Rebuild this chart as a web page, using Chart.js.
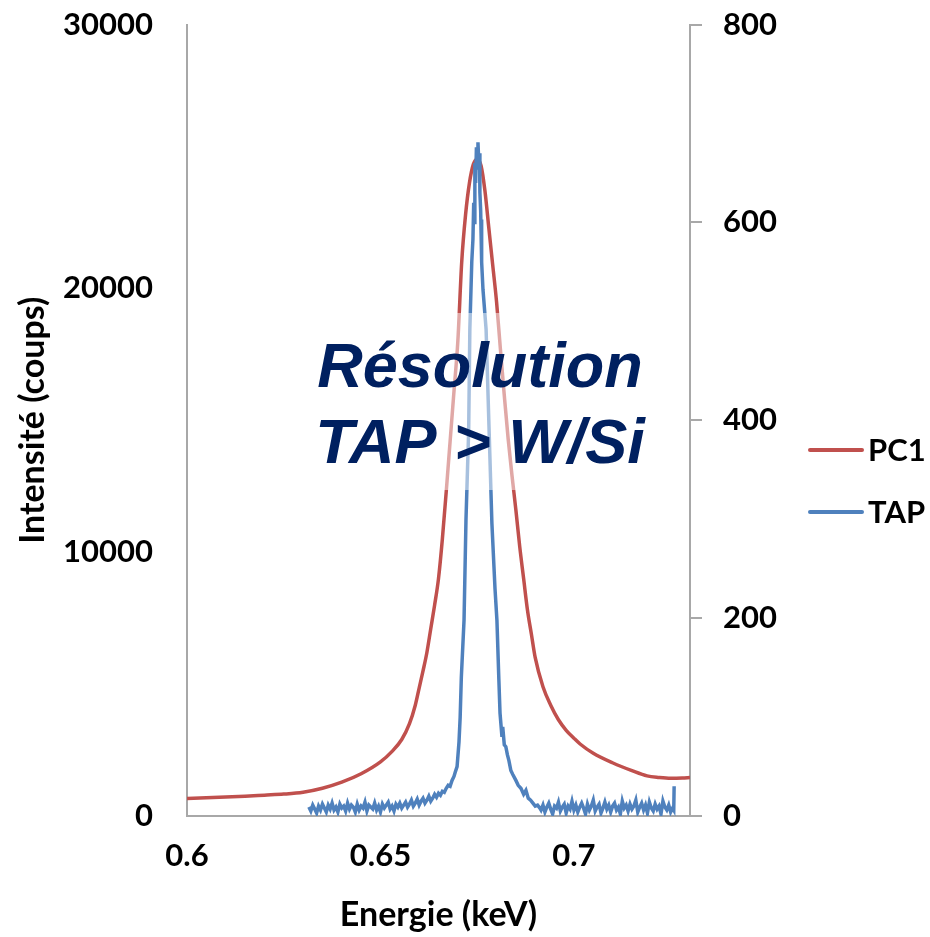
<!DOCTYPE html>
<html>
<head>
<meta charset="utf-8">
<script src="https://cdn.jsdelivr.net/npm/chart.js@4/dist/chart.umd.min.js"></script>
<style>
  body { margin: 0; background: #fff; }
  #wrap { width: 930px; height: 937px; overflow: hidden; }
  #myChart { display: block; margin-top: -20px; }
</style>
</head>
<body>
<div id="wrap"><canvas id="myChart" width="930" height="957"></canvas></div>
<script>
// PC1 spectrum (left axis, counts)
const pc1Energy = [0.600, 0.605, 0.610, 0.615, 0.620, 0.625, 0.630, 0.635, 0.640, 0.645,
  0.650, 0.653, 0.6555, 0.6575, 0.659, 0.660, 0.661, 0.662, 0.663, 0.664,
  0.665, 0.666, 0.667, 0.668, 0.669, 0.670, 0.671, 0.672, 0.673, 0.674,
  0.675, 0.676, 0.677, 0.678, 0.679, 0.680, 0.681, 0.682, 0.683, 0.684,
  0.685, 0.686, 0.687, 0.688, 0.689, 0.690, 0.692, 0.694, 0.696, 0.698,
  0.700, 0.7016, 0.705, 0.7101, 0.715, 0.7189, 0.722, 0.725, 0.728, 0.730]
const pc1Counts = [660, 690, 720, 750, 790, 830, 900, 1050, 1280, 1600,
  2050, 2450, 2900, 3500, 4200, 4850, 5500, 6200, 7100, 8000,
  9000, 10500, 12300, 14200, 16100, 18000, 21000, 22800, 24000, 24700,
  24900, 24650, 23700, 22300, 20900, 19500, 17700, 15950, 14300, 12900,
  11600, 10200, 9000, 7800, 6900, 6000, 4900, 4200, 3650, 3250,
  2950, 2730, 2380, 2010, 1720, 1520, 1460, 1430, 1440, 1460]

// TAP spectrum (right axis, counts)
const tapEnergy = [0.6315, 0.6320, 0.6325, 0.6330, 0.6335, 0.6340, 0.6345, 0.6350, 0.6355, 0.6360,
  0.6365, 0.6370, 0.6375, 0.6380, 0.6385, 0.6390, 0.6395, 0.6400, 0.6405, 0.6410,
  0.6415, 0.6420, 0.6425, 0.6430, 0.6435, 0.6440, 0.6445, 0.6450, 0.6455, 0.6460,
  0.6465, 0.6470, 0.6475, 0.6480, 0.6485, 0.6490, 0.6495, 0.6500, 0.6505, 0.6510,
  0.6515, 0.6520, 0.6525, 0.6530, 0.6535, 0.6540, 0.6545, 0.6550, 0.6555, 0.6560,
  0.6565, 0.6570, 0.6575, 0.6580, 0.6585, 0.6590, 0.6595, 0.6600, 0.6605, 0.6610,
  0.6615, 0.6620, 0.6625, 0.6630, 0.6635, 0.6640, 0.6645, 0.6650,
  0.6655, 0.6660, 0.6665, 0.6670, 0.6675, 0.6680, 0.6685, 0.6690, 0.6693, 0.6698,
  0.6703, 0.6706, 0.6709, 0.6716, 0.6721, 0.6728, 0.6731, 0.6736, 0.6739, 0.6741,
  0.6742, 0.6744, 0.6746, 0.6748, 0.6750, 0.6752, 0.6754, 0.6756, 0.6757, 0.6759,
  0.6760, 0.6761, 0.6762, 0.6765, 0.6773, 0.6780, 0.6788, 0.6796, 0.6801, 0.6806,
  0.6809, 0.6814, 0.6816, 0.6820, 0.6824, 0.6828, 0.6832, 0.6837, 0.6842, 0.6850,
  0.6856, 0.6863, 0.6870, 0.6876, 0.6882, 0.6888, 0.6894, 0.6900, 0.6906, 0.6912,
  0.6915, 0.6920, 0.6925, 0.6930, 0.6935, 0.6940, 0.6945, 0.6950, 0.6955, 0.6960,
  0.6965, 0.6970, 0.6975, 0.6980, 0.6985, 0.6990, 0.6995, 0.7000, 0.7005, 0.7010,
  0.7015, 0.7020, 0.7025, 0.7030, 0.7035, 0.7040, 0.7045, 0.7050, 0.7055, 0.7060,
  0.7065, 0.7070, 0.7075, 0.7080, 0.7085, 0.7090, 0.7095, 0.7100, 0.7105, 0.7110,
  0.7115, 0.7120, 0.7125, 0.7130, 0.7135, 0.7140, 0.7145, 0.7150, 0.7155, 0.7160,
  0.7165, 0.7170, 0.7175, 0.7180, 0.7185, 0.7190, 0.7195, 0.7200, 0.7205, 0.7210,
  0.7215, 0.7220, 0.7225, 0.7230, 0.7235, 0.7240, 0.7245, 0.7250, 0.7255, 0.7258,
  0.7259]
const tapCounts = [9, 5, 11, 7, 3, 10, 6, 12, 8, 4,
  11, 7, 13, 6, 9, 4, 12, 8, 10, 5,
  13, 7, 11, 9, 4, 12, 6, 10, 8, 14,
  5, 11, 9, 7, 13, 6, 10, 4, 12, 8,
  11, 14, 7, 10, 5, 12, 9, 13, 8, 11,
  14, 9, 12, 16, 10, 13, 17, 11, 15, 18,
  13, 16, 20, 15, 18, 22, 19, 23,
  21, 25, 24, 28, 31, 30, 36, 40, 44, 50,
  75, 100, 140, 198, 299, 390, 492, 560, 583, 620,
  600, 660, 640, 676, 655, 681, 662, 670, 630, 612,
  590, 603, 560, 532, 492, 400, 296, 230, 198, 138,
  104, 80, 90, 72, 70, 62, 56, 46, 42, 36,
  31, 28, 22, 26, 18, 16, 13, 10, 11, 8,
  6, 11, 4, 9, 13, 7, 2, 10, 8, 14,
  5, 9, 12, 3, 10, 7, 15, 6, 11, 4,
  9, 13, 8, 2, 12, 6, 10, 16, 5, 9,
  12, 3, 8, 14, 7, 11, 4, 10, 13, 6,
  9, 2, 15, 8, 11, 5, 12, 7, 10, 16,
  4, 9, 13, 6, 11, 3, 14, 8, 5, 12,
  7, 10, 2, 15, 9, 6, 11, 4, 8, 6,
  30]

const xTicks = [0.6, 0.65, 0.7]
const leftTicks = [0, 10000, 20000, 30000]
const rightTicks = [0, 200, 400, 600, 800]
const seriesNames = ['PC1', 'TAP']
const noteLines = ['Résolution', 'TAP > W/Si']

const gShift = 20 // canvas is pulled up by this much
const gAxisGrey = '#a8a8a8'
const gTickFont = { family: 'Lato', size: 31, weight: 'bold' }
const gTitleFont = { family: 'Lato', size: 34, weight: 'bold' }

function toPoints(xs, ys) {
  return xs.map((x, i) => ({ x: x, y: ys[i] }))
}

// white veil + overlay text, drawn above the lines
const notePlugin = {
  id: 'note',
  afterDatasetsDraw(chart) {
    const ctx = chart.ctx
    ctx.save()
    ctx.fillStyle = 'rgba(255,255,255,0.5)'
    ctx.fillRect(305, 313 + gShift, 352, 177)
    ctx.fillStyle = '#002060'
    ctx.font = 'italic bold 63px "Liberation Sans", Arial, sans-serif'
    ctx.textAlign = 'center'
    ctx.textBaseline = 'alphabetic'
    ctx.fillText(noteLines[0], 480, 387 + gShift)
    ctx.fillText(noteLines[1], 480, 463 + gShift)
    ctx.restore()
  }
}

// legend on the right, line swatches
const legendPlugin = {
  id: 'sideLegend',
  afterDraw(chart) {
    const ctx = chart.ctx
    ctx.save()
    chart.data.datasets.forEach((ds, i) => {
      const y = 450 + i * 62 + gShift
      ctx.strokeStyle = ds.borderColor
      ctx.lineWidth = 4
      ctx.lineCap = 'round'
      ctx.beginPath()
      ctx.moveTo(810, y)
      ctx.lineTo(862, y)
      ctx.stroke()
      ctx.fillStyle = '#000'
      ctx.font = 'bold 31px Lato'
      ctx.textAlign = 'left'
      ctx.textBaseline = 'middle'
      ctx.fillText(ds.label, 868, y + 1)
    })
    ctx.restore()
  }
}

displayChart()

function displayChart() {
  const ctx = document.getElementById('myChart').getContext('2d')
  new Chart(ctx, {
    type: 'scatter',
    data: {
      datasets: [{
        label: seriesNames[0],
        data: toPoints(pc1Energy, pc1Counts),
        yAxisID: 'y',
        showLine: true,
        borderColor: '#C0504D',
        borderWidth: 3.5,
        pointRadius: 0,
        cubicInterpolationMode: 'monotone',
        order: 1
      }, {
        label: seriesNames[1],
        data: toPoints(tapEnergy, tapCounts),
        yAxisID: 'y1',
        showLine: true,
        borderColor: '#4F81BD',
        borderWidth: 3.5,
        pointRadius: 0,
        order: 0
      }]
    },
    options: {
      responsive: false,
      animation: false,
      layout: { padding: { left: 0, right: 0, top: 0, bottom: 0 } },
      plugins: {
        legend: { display: false },
        tooltip: { enabled: false }
      },
      scales: {
        x: {
          type: 'linear',
          min: 0.6,
          max: 0.73,
          afterBuildTicks: s => { s.ticks = xTicks.map(v => ({ value: v })) },
          afterFit: s => { s.height = 121 },
          grid: { display: false },
          border: { display: true, color: gAxisGrey, width: 2 },
          ticks: { color: '#000', font: gTickFont, padding: 13, maxRotation: 0, callback: v => String(v) },
          title: { display: true, text: 'Energie (keV)', color: '#000', font: gTitleFont, padding: { top: 0, bottom: 2 } }
        },
        y: {
          position: 'left',
          min: 0,
          max: 30000,
          afterBuildTicks: s => { s.ticks = leftTicks.map(v => ({ value: v })) },
          afterFit: s => { s.width = 187 },
          grid: { display: false },
          border: { display: true, color: gAxisGrey, width: 2 },
          ticks: { color: '#000', font: gTickFont, padding: 26, callback: v => String(v) },
          title: { display: true, text: 'Intensité (coups)', color: '#000', font: gTitleFont, padding: { top: 13, bottom: 0 } }
        },
        y1: {
          position: 'right',
          min: 0,
          max: 800,
          afterBuildTicks: s => { s.ticks = rightTicks.map(v => ({ value: v })) },
          afterFit: s => { s.width = 240 },
          grid: { display: true, drawOnChartArea: false, drawTicks: true, tickLength: 12, color: gAxisGrey, lineWidth: 2 },
          border: { display: true, color: gAxisGrey, width: 2 },
          ticks: { color: '#000', font: gTickFont, padding: 21, callback: v => String(v) }
        }
      }
    },
    plugins: [notePlugin, legendPlugin]
  })
}
</script>
</body>
</html>
